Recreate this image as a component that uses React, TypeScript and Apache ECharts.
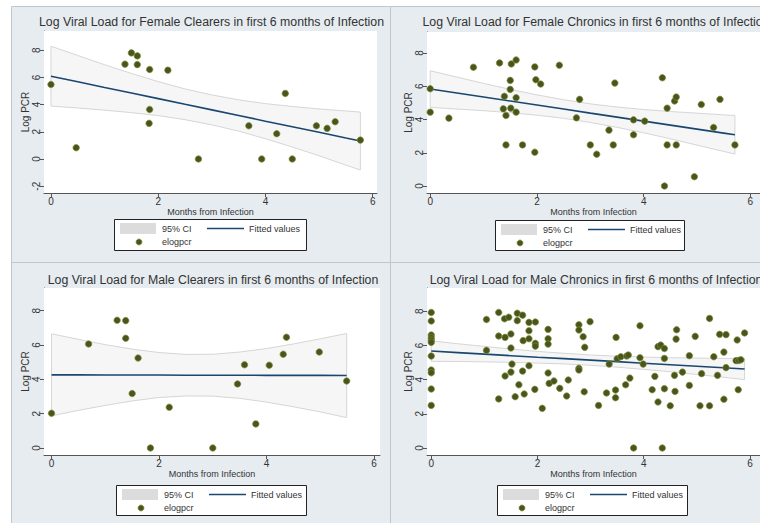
import { useEffect, useRef } from 'react';
import * as echarts from 'echarts';

// ---------- Data ----------
const titles = [
  'Log Viral Load for Female Clearers in first 6 months of Infection',
  'Log Viral Load for Female Chronics in first 6 months of Infection',
  'Log Viral Load for Male Clearers in first 6 months of Infection',
  'Log Viral Load for Male Chronics in first 6 months of Infection',
];
const xTickValues = [0, 2, 4, 6];
const yTicksWithNeg = [-2, 0, 2, 4, 6, 8];
const yTicks = [0, 2, 4, 6, 8];
const xTitle = 'Months from Infection';
const yTitle = 'Log PCR';
const legendLabels = ['95% CI', 'Fitted values', 'elogpcr'];

// Female clearers
const fclX = [0, 0.47, 1.38, 1.5, 1.61, 1.61, 1.84, 1.84, 1.83, 2.18, 2.75, 3.69, 3.93, 4.21, 4.37, 4.5, 4.95, 5.15, 5.3, 5.77];
const fclY = [5.48, 0.83, 6.97, 7.8, 7.58, 6.94, 6.58, 3.64, 2.62, 6.53, 0, 2.44, 0, 1.86, 4.82, 0, 2.44, 2.25, 2.74, 1.39];
const fclBandX = [0, 0.5, 1, 1.5, 2, 2.5, 3, 3.5, 4, 4.5, 5, 5.5, 5.77];
const fclFit = [6.09, 5.68, 5.26, 4.85, 4.44, 4.02, 3.61, 3.2, 2.78, 2.37, 1.96, 1.54, 1.32];
const fclUpper = [8.29, 7.61, 6.93, 6.29, 5.69, 5.15, 4.71, 4.35, 4.07, 3.86, 3.68, 3.53, 3.45];
const fclLower = [3.89, 3.75, 3.59, 3.41, 3.19, 2.89, 2.51, 2.05, 1.49, 0.88, 0.24, -0.45, -0.81];

// Female chronics
const fchX = [0, 0, 0.35, 0.81, 1.3, 1.37, 1.39, 1.42, 1.42, 1.5, 1.5, 1.51, 1.52, 1.61, 1.61, 1.61, 1.73, 1.96, 1.96, 1.98, 2.07, 2.42, 2.74, 2.8, 3.0, 3.12, 3.35, 3.43, 3.46, 3.81, 3.81, 4.02, 4.35, 4.39, 4.44, 4.44, 4.58, 4.61, 4.61, 4.95, 5.08, 5.31, 5.43, 5.71];
const fchY = [5.85, 4.44, 4.08, 7.14, 7.4, 4.64, 5.39, 4.24, 2.47, 6.35, 5.81, 4.68, 7.34, 7.58, 5.31, 4.44, 2.47, 7.16, 2.03, 6.39, 6.13, 7.26, 4.1, 5.21, 2.47, 1.91, 3.36, 2.47, 6.19, 3.98, 3.08, 3.9, 6.51, 0, 4.68, 2.47, 5.11, 5.35, 2.47, 0.56, 4.9, 3.52, 5.21, 2.47];
const fchBandX = [0, 0.5, 1, 1.5, 2, 2.5, 3, 3.5, 4, 4.5, 5, 5.5, 5.71];
const fchFit = [5.83, 5.59, 5.35, 5.11, 4.87, 4.63, 4.38, 4.14, 3.9, 3.66, 3.42, 3.18, 3.08];
const fchUpper = [6.93, 6.55, 6.17, 5.81, 5.48, 5.19, 4.94, 4.75, 4.6, 4.48, 4.38, 4.28, 4.24];
const fchLower = [4.73, 4.63, 4.53, 4.41, 4.26, 4.07, 3.82, 3.53, 3.2, 2.84, 2.46, 2.08, 1.92];

// Male clearers
const mclX = [0, 0.69, 1.22, 1.38, 1.38, 1.5, 1.61, 1.84, 2.19, 3.0, 3.46, 3.59, 3.8, 4.05, 4.31, 4.37, 4.98, 5.49];
const mclY = [2.02, 6.06, 7.44, 7.42, 6.39, 3.17, 5.24, 0, 2.37, 0, 3.73, 4.85, 1.4, 4.82, 5.46, 6.45, 5.59, 3.9];
const mclBandX = [0, 0.5, 1, 1.5, 2, 2.5, 3, 3.5, 4, 4.5, 5, 5.49];
const mclFit = [4.26, 4.26, 4.25, 4.25, 4.25, 4.24, 4.24, 4.24, 4.23, 4.23, 4.23, 4.22];
const mclUpper = [6.65, 6.33, 6.02, 5.76, 5.56, 5.45, 5.46, 5.59, 5.79, 6.06, 6.36, 6.67];
const mclLower = [1.87, 2.19, 2.48, 2.74, 2.94, 3.03, 3.02, 2.89, 2.67, 2.4, 2.1, 1.77];

// Male chronics
const mchX = [
  0, 0, 0, 0, 0, 0, 0, 0, 0, 0, 0,
  1.04, 1.04, 1.27, 1.27, 1.27, 1.38, 1.39, 1.39, 1.46, 1.5, 1.5, 1.5, 1.52, 1.58,
  1.62, 1.62, 1.65, 1.72, 1.72, 1.73, 1.75, 1.84, 1.84, 1.84, 1.84, 1.95, 1.96, 1.96, 1.96,
  2.09, 2.2, 2.2, 2.2, 2.2, 2.22, 2.31, 2.42, 2.55, 2.58, 2.78, 2.78, 2.78, 2.78, 2.86, 2.88, 2.89, 2.99,
  3.15, 3.3, 3.35, 3.47, 3.47, 3.48, 3.5, 3.57, 3.66, 3.68, 3.71, 3.74, 3.81, 3.93, 3.93, 3.99,
  4.16, 4.21, 4.27, 4.27, 4.32, 4.35, 4.39, 4.39, 4.39, 4.5, 4.58, 4.59, 4.61, 4.62, 4.73, 4.86, 4.86, 4.97,
  5.06, 5.09, 5.24, 5.24, 5.32, 5.39, 5.43, 5.51, 5.51, 5.55, 5.55, 5.74, 5.76, 5.78, 5.79, 5.83, 5.9,
];
const mchY = [
  7.93, 7.43, 6.61, 6.45, 6.31, 6.18, 5.38, 4.56, 4.4, 3.45, 2.49,
  7.52, 5.71, 7.93, 6.55, 2.87, 7.56, 6.47, 4.21, 7.65, 6.67, 5.85, 4.44, 4.91, 3.0,
  7.88, 7.45, 3.7, 7.77, 4.5, 6.28, 3.16, 7.35, 6.86, 6.39, 4.81, 3.43, 7.37, 6.12, 5.96,
  2.32, 6.94, 6.39, 6.08, 4.39, 3.78, 3.92, 3.49, 3.04, 3.98, 7.21, 6.9, 4.66, 4.56, 6.51, 3.29, 5.89, 7.39,
  2.49, 3.22, 4.91, 3.39, 2.94, 6.47, 5.22, 5.34, 3.7, 5.38, 5.44, 4.09, 0, 7.15, 5.28, 4.91,
  3.41, 4.19, 2.69, 5.93, 6.02, 0, 5.82, 5.24, 3.47, 2.47, 4.25, 3.31, 6.37, 6.92, 4.44, 5.4, 3.66, 6.53,
  2.47, 4.35, 7.58, 2.47, 5.34, 4.25, 6.65, 5.61, 2.85, 6.63, 4.7, 5.11, 6.32, 3.41, 5.12, 5.16, 6.73,
];
const mchBandX = [0, 0.5, 1, 1.5, 2, 2.5, 3, 3.5, 4, 4.5, 5, 5.5, 5.9];
const mchFit = [5.67, 5.58, 5.49, 5.4, 5.31, 5.23, 5.14, 5.05, 4.96, 4.87, 4.78, 4.69, 4.62];
const mchUpper = [6.27, 6.1, 5.94, 5.79, 5.65, 5.54, 5.44, 5.37, 5.32, 5.28, 5.26, 5.24, 5.24];
const mchLower = [5.07, 5.06, 5.04, 5.01, 4.97, 4.92, 4.84, 4.73, 4.6, 4.46, 4.3, 4.14, 4.0];

// ---------- Layout / style ----------
const FONT = '"Liberation Sans", Arial, Helvetica, sans-serif';
const BG = '#E6ECF0';
const FRAME = '#BFC6CC';
const AXIS = '#555';
const TXT = '#333';
const GRIDLINE = '#E2E9ED';
const MARKER = '#48561D';
const MARKER_EDGE = '#7E8C38';
const FITLINE = '#1A476F';
const CI_FILL = '#F6F6F6';
const CI_EDGE = '#D6D6D6';

type Panel = {
  grid: { left: number; top: number; width: number; height: number };
  xr: [number, number];
  yr: [number, number];
  yt: number[];
  xs: number[]; ys: number[];
  bx: number[]; fit: number[]; up: number[]; lo: number[];
  frame: [number, number, number, number];
  titleY: number;
  legend: [number, number, number, number];
  xNameGap: number;
};

const panels: Panel[] = [
  {
    grid: { left: 44, top: 31, width: 333, height: 162 }, xr: [-0.13, 6.08], yr: [-2.5, 9.41], yt: yTicksWithNeg,
    xs: fclX, ys: fclY, bx: fclBandX, fit: fclFit, up: fclUpper, lo: fclLower,
    frame: [11, 6, 379, 256], titleY: 22, legend: [114, 219, 192, 31], xNameGap: 14,
  },
  {
    grid: { left: 427, top: 32, width: 336, height: 161 }, xr: [-0.06, 6.18], yr: [-0.42, 9.26], yt: yTicks,
    xs: fchX, ys: fchY, bx: fchBandX, fit: fchFit, up: fchUpper, lo: fchLower,
    frame: [390, 6, 380, 256], titleY: 22, legend: [495, 220, 189, 30], xNameGap: 14,
  },
  {
    grid: { left: 44, top: 288, width: 336, height: 167 }, xr: [-0.14, 6.11], yr: [-0.41, 9.32], yt: yTicks,
    xs: mclX, ys: mclY, bx: mclBandX, fit: mclFit, up: mclUpper, lo: mclLower,
    frame: [11, 262, 379, 280], titleY: 280, legend: [116, 485, 190, 30], xNameGap: 14,
  },
  {
    grid: { left: 427, top: 288, width: 336, height: 167 }, xr: [-0.08, 6.19], yr: [-0.41, 9.36], yt: yTicks,
    xs: mchX, ys: mchY, bx: mchBandX, fit: mchFit, up: mchUpper, lo: mchLower,
    frame: [390, 262, 380, 280], titleY: 280, legend: [497, 485, 190, 30], xNameGap: 14,
  },
];

function buildOption() {
  const grids: any[] = [];
  const xAxes: any[] = [];
  const yAxes: any[] = [];
  const series: any[] = [];
  const graphics: any[] = [];

  panels.forEach((p, i) => {
    grids.push({
      ...p.grid,
      show: true,
      backgroundColor: '#ffffff',
      borderWidth: 0,
      containLabel: false,
      z: 1,
    });
    xAxes.push({
      type: 'value', gridIndex: i, min: p.xr[0], max: p.xr[1],
      axisLine: { show: true, onZero: false, lineStyle: { color: AXIS, width: 1 } },
      axisTick: { show: true, length: 4, customValues: xTickValues, lineStyle: { color: AXIS } },
      axisLabel: { customValues: xTickValues, fontSize: 10, color: TXT, margin: 3, fontFamily: FONT },
      splitLine: { show: false },
      name: xTitle, nameLocation: 'middle', nameGap: p.xNameGap,
      nameTextStyle: { fontSize: 9, color: TXT, fontFamily: FONT },
    });
    yAxes.push({
      type: 'value', gridIndex: i, min: p.yr[0], max: p.yr[1],
      axisLine: { show: true, onZero: false, lineStyle: { color: AXIS, width: 1 } },
      axisTick: { show: true, length: 4, customValues: p.yt, lineStyle: { color: AXIS } },
      axisLabel: { customValues: p.yt, rotate: 90, fontSize: 10, color: TXT, margin: 3, fontFamily: FONT },
      splitLine: { show: true, lineStyle: { color: GRIDLINE, width: 1 } },
      name: yTitle, nameLocation: 'middle', nameGap: 4, nameRotate: 90,
      nameTextStyle: { fontSize: 10, color: TXT, fontFamily: FONT },
    });

    const bx = p.bx, up = p.up, lo = p.lo;
    series.push({
      type: 'custom', xAxisIndex: i, yAxisIndex: i, silent: true, z: 2,
      data: [[bx[0], up[0]]],
      renderItem: (_params: any, api: any) => {
        const top = bx.map((x, k) => api.coord([x, up[k]]));
        const bot = bx.map((x, k) => api.coord([x, lo[k]])).reverse();
        return {
          type: 'polygon',
          shape: { points: top.concat(bot) },
          style: { fill: CI_FILL, stroke: CI_EDGE, lineWidth: 1 },
        };
      },
    });
    series.push({
      type: 'line', xAxisIndex: i, yAxisIndex: i, silent: true, z: 3,
      symbol: 'none',
      data: bx.map((x, k) => [x, p.fit[k]]),
      lineStyle: { color: FITLINE, width: 1.6 },
    });
    series.push({
      type: 'scatter', xAxisIndex: i, yAxisIndex: i, silent: true, z: 4,
      symbolSize: 6.5,
      data: p.xs.map((x, k) => [x, p.ys[k]]),
      itemStyle: { color: MARKER, borderColor: MARKER_EDGE, borderWidth: 0.7, opacity: 1 },
    });

    // panel background + frame
    graphics.push({
      type: 'rect', z: 0, silent: true,
      shape: { x: p.frame[0] + 0.5, y: p.frame[1] + 0.5, width: p.frame[2], height: p.frame[3] },
      style: { fill: BG, stroke: FRAME, lineWidth: 1 },
    });
    // title
    graphics.push({
      type: 'text', z: 10, silent: true,
      x: p.grid.left + p.grid.width / 2 + 1, y: p.titleY,
      style: { text: titles[i], fontSize: 12.3, fontFamily: FONT, fill: TXT, align: 'center', verticalAlign: 'middle' },
    });
    // legend
    const [lx, ly, lw, lh] = p.legend;
    const r1 = ly + 9.5, r2 = ly + 23;
    graphics.push({
      type: 'rect', z: 10, silent: true,
      shape: { x: lx + 0.5, y: ly + 0.5, width: lw, height: lh },
      style: { fill: '#ffffff', stroke: '#222', lineWidth: 1 },
    });
    graphics.push({
      type: 'rect', z: 11, silent: true,
      shape: { x: lx + 6, y: ly + 4, width: 36, height: 11 },
      style: { fill: '#DCDCDC' },
    });
    graphics.push({
      type: 'text', z: 11, silent: true, x: lx + 48, y: r1,
      style: { text: legendLabels[0], fontSize: 9, fontFamily: FONT, fill: TXT, align: 'left', verticalAlign: 'middle' },
    });
    graphics.push({
      type: 'line', z: 11, silent: true,
      shape: { x1: lx + 93, y1: r1, x2: lx + 130, y2: r1 },
      style: { stroke: FITLINE, lineWidth: 1.5 },
    });
    graphics.push({
      type: 'text', z: 11, silent: true, x: lx + 135, y: r1,
      style: { text: legendLabels[1], fontSize: 9, fontFamily: FONT, fill: TXT, align: 'left', verticalAlign: 'middle' },
    });
    graphics.push({
      type: 'circle', z: 11, silent: true,
      shape: { cx: lx + 25, cy: r2, r: 3 },
      style: { fill: MARKER, stroke: MARKER_EDGE, lineWidth: 0.7 },
    });
    graphics.push({
      type: 'text', z: 11, silent: true, x: lx + 48, y: r2,
      style: { text: legendLabels[2], fontSize: 9, fontFamily: FONT, fill: TXT, align: 'left', verticalAlign: 'middle' },
    });
  });

  return {
    animation: false,
    textStyle: { fontFamily: FONT },
    grid: grids,
    xAxis: xAxes,
    yAxis: yAxes,
    series,
    graphic: { elements: graphics },
  };
}

export default function App() {
  const ref = useRef<HTMLDivElement | null>(null);
  useEffect(() => {
    if (!ref.current) return;
    const chart = echarts.init(ref.current, undefined, { renderer: 'svg' });
    chart.setOption(buildOption() as any);
    return () => chart.dispose();
  }, []);
  return (
    <div
      ref={ref}
      style={{ position: 'absolute', left: 0, top: 0, width: 760, height: 523, overflow: 'hidden', background: '#ffffff' }}
    />
  );
}
